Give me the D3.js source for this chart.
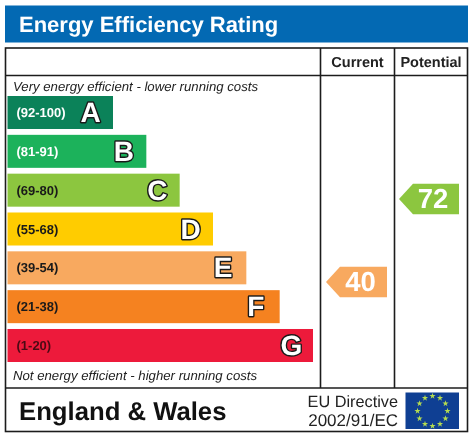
<!DOCTYPE html>
<html><head><meta charset="utf-8">
<script src="https://cdn.jsdelivr.net/npm/d3@7"></script>
<style>html,body{margin:0;padding:0;background:#fff}svg{display:block;filter:blur(0.35px)}text{font-family:"Liberation Sans",Arial,sans-serif;text-rendering:geometricPrecision}</style>
</head><body><svg id="c" width="473" height="437"></svg>
<script>
const bands=["A","B","C","D","E","F","G"];
const ranges=["(92-100)","(81-91)","(69-80)","(55-68)","(39-54)","(21-38)","(1-20)"];
const bandSteps=[0,1,2,3,4,5,6];
const bandColors=["#0b8259","#1cb25b","#8cc63f","#ffcc00","#f8a95f","#f58220","#ed1a3b"];
const rangeColors=["#ffffff","#ffffff","#1a1a1a","#1a1a1a","#1a1a1a","#1a1a1a","#4a0a14"];
const columns=["Current","Potential"];
const scores=[40,72];
const scoreColors=["#f8a95f","#8cc63f"];
const title="Energy Efficiency Rating";
const topNote="Very energy efficient - lower running costs";
const bottomNote="Not energy efficient - higher running costs";
const region="England & Wales";
const directive=["EU Directive","2002/91/EC"];

const svg=d3.select("#c");
const yBand=d3.scaleBand().domain(bands).range([96,362]).paddingInner(0.15).paddingOuter(0);
const xEnd=d3.scaleLinear().domain([0,6]).range([113,313]);
const yScore=d3.scaleLinear().domain([0,100]).range([385.7,126.3]);
const xCol=d3.scaleOrdinal().domain(columns).range([357.5,431]);
const arrowBody=d3.scaleOrdinal().domain(columns).range([[326,340,387],[399,413,459]]);

svg.append("rect").attr("x",5).attr("y",5.5).attr("width",463).attr("height",37).attr("fill","#0369b3");
svg.append("text").attr("x",19).attr("y",32).attr("font-size",22).attr("font-weight",700).attr("fill","#fff").text(title);

const ink="#1c1c1c";
svg.append("rect").attr("x",5.5).attr("y",48).attr("width",462).attr("height",383.5).attr("fill","#fff").attr("stroke",ink).attr("stroke-width",1.6);
[[5,468,75.5,75.5],[5,468,388,388],[320.5,320.5,48,388],[394.5,394.5,48,388]].forEach(l=>
  svg.append("line").attr("x1",l[0]).attr("x2",l[1]).attr("y1",l[2]).attr("y2",l[3]).attr("stroke",ink).attr("stroke-width",1.6));

svg.selectAll(".h").data(columns).join("text").attr("x",d=>xCol(d)).attr("y",66.5).attr("text-anchor","middle")
  .attr("font-size",14.5).attr("font-weight",700).attr("fill","#222").text(d=>d);

svg.append("text").attr("x",13).attr("y",90.5).attr("font-size",13.2).attr("font-style","italic").attr("fill","#222").text(topNote);
svg.append("text").attr("x",13).attr("y",380).attr("font-size",13.2).attr("font-style","italic").attr("fill","#222").text(bottomNote);

const g=svg.selectAll(".b").data(bands).join("g");
g.append("rect").attr("x",7.5).attr("y",d=>yBand(d)).attr("height",yBand.bandwidth())
  .attr("width",(d,i)=>xEnd(bandSteps[i])-7.5).attr("fill",(d,i)=>bandColors[i]);
g.append("text").attr("x",16.5).attr("y",d=>yBand(d)+yBand.bandwidth()/2+4.5).attr("font-size",13).attr("font-weight",700)
  .attr("fill",(d,i)=>rangeColors[i]).text((d,i)=>ranges[i]);
g.append("text").attr("x",(d,i)=>xEnd(bandSteps[i])-32.5).attr("y",d=>yBand(d)+yBand.bandwidth()/2+9.5)
  .attr("font-size",28).attr("font-weight",700).attr("fill","#fff").attr("stroke","#1a1a1a").attr("stroke-width",2.8)
  .attr("paint-order","stroke").attr("stroke-linejoin","round").text(d=>d);

const arrowH=30.5;
const ag=svg.selectAll(".a").data(scores).join("g");
ag.append("path").attr("fill",(d,i)=>scoreColors[i]).attr("d",(d,i)=>{
  const [t,s,e]=arrowBody(columns[i]),c=yScore(d);
  const p=d3.path();p.moveTo(t,c);p.lineTo(s,c-arrowH/2);p.lineTo(e,c-arrowH/2);p.lineTo(e,c+arrowH/2);p.lineTo(s,c+arrowH/2);p.closePath();return p.toString();});
ag.append("text").attr("x",(d,i)=>{const a=arrowBody(columns[i]);return (a[1]+a[2])/2-3;}).attr("y",d=>yScore(d)+9.5)
  .attr("text-anchor","middle").attr("font-size",27.5).attr("font-weight",700).attr("fill","#fff").text(d=>d);

svg.append("text").attr("x",19).attr("y",419.5).attr("font-size",25.7).attr("font-weight",700).attr("fill","#111").text(region);
svg.selectAll(".d").data(directive).join("text").attr("x",398).attr("y",(d,i)=>[407,426][i]).attr("text-anchor","end")
  .attr("font-size",(d,i)=>[16.3,17][i]).attr("fill","#222").text(d=>d);

svg.append("rect").attr("x",405.5).attr("y",392.5).attr("width",53.5).attr("height",36.5).attr("fill","#0f3f93");
const ang=d3.scaleLinear().domain([0,12]).range([0,2*Math.PI]);
svg.selectAll(".s").data(d3.range(12)).join("path").attr("d",d3.symbol(d3.symbolStar,12))
  .attr("fill","#b5dc50").attr("transform",d=>`translate(${432.5+15*Math.sin(ang(d))},${411-15*Math.cos(ang(d))})`);
</script></body></html>
